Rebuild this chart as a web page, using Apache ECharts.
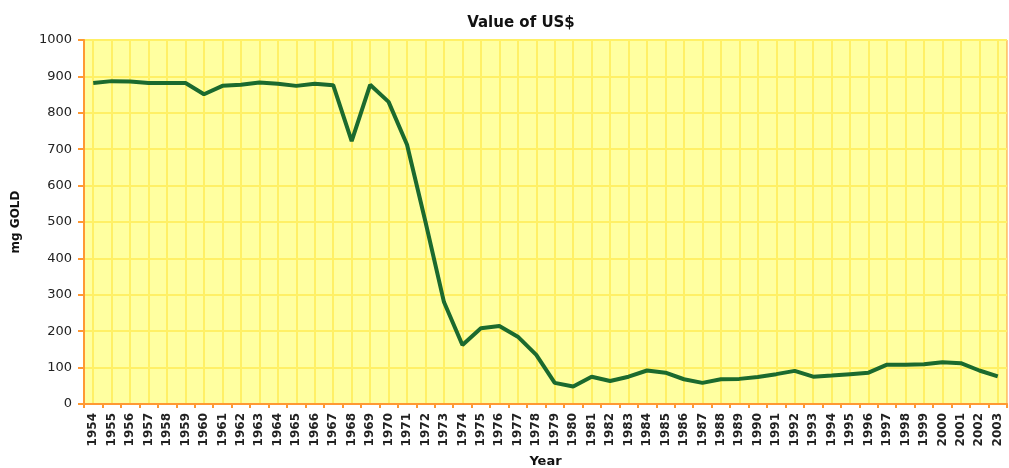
<!DOCTYPE html>
<html>
<head>
<meta charset="utf-8">
<script src="https://cdn.jsdelivr.net/npm/echarts@6/dist/echarts.min.js"></script>
<style>
html,body{margin:0;padding:0;background:#fff;}
#chart{width:1009px;height:468px;}
</style>
</head>
<body>
<div id="chart"></div>
<script>
const years = ['1954','1955','1956','1957','1958','1959','1960','1961','1962','1963','1964','1965','1966','1967','1968','1969','1970','1971','1972','1973','1974','1975','1976','1977','1978','1979','1980','1981','1982','1983','1984','1985','1986','1987','1988','1989','1990','1991','1992','1993','1994','1995','1996','1997','1998','1999','2000','2001','2002','2003'];
const mgGold = [882,887,886,882,882,882,851,874,877,883,880,874,880,876,722,877,830,712,500,280,162,208,214,185,135,58,48,75,63,75,92,86,68,58,68,69,74,82,91,75,78,82,86,108,108,109,115,112,92,76];
const yTicks = [0,100,200,300,400,500,600,700,800,900,1000];

const orange = '#FF9933';
const chart = echarts.init(document.getElementById('chart'));
chart.setOption({
  animation: false,
  backgroundColor: '#ffffff',
  title: {
    text: 'Value of US$',
    left: 516, top: 11,
    textAlign: 'center',
    textStyle: {fontFamily: 'DejaVu Sans', fontWeight: 'bold', fontSize: 15, color: '#111'}
  },
  grid: {
    left: 84, right: 2, top: 40, bottom: 64,
    containLabel: false,
    outerBoundsMode: 'none',
    show: true, backgroundColor: '#FFFFA0', borderColor: orange, borderWidth: 1
  },
  xAxis: {
    type: 'category',
    data: years,
    boundaryGap: true,
    name: 'Year',
    nameLocation: 'middle',
    nameGap: 51,
    nameTextStyle: {fontFamily: 'DejaVu Sans', fontWeight: 'bold', fontSize: 13, color: '#111'},
    axisLine: {lineStyle: {color: orange, width: 2}},
    axisTick: {show: true, length: 4, lineStyle: {color: orange, width: 2}},
    axisLabel: {rotate: 90, interval: 0, margin: 9, fontFamily: 'DejaVu Sans', fontWeight: 'bold', fontSize: 12, color: '#222'},
    splitLine: {show: true, alignWithLabel: true, lineStyle: {color: '#FFF066', width: 2}}
  },
  yAxis: {
    type: 'value',
    min: yTicks[0], max: yTicks[yTicks.length-1], interval: 100,
    name: 'mg GOLD',
    nameLocation: 'middle',
    nameGap: 62,
    nameRotate: 90,
    nameTextStyle: {fontFamily: 'DejaVu Sans', fontWeight: 'bold', fontSize: 12, color: '#111'},
    axisLine: {show: true, lineStyle: {color: orange, width: 2}},
    axisTick: {show: true, length: 6, lineStyle: {color: orange, width: 2}},
    axisLabel: {margin: 12, fontFamily: 'DejaVu Sans', fontSize: 13, color: '#222', formatter: function (v) { return String(v); }},
    splitLine: {show: true, lineStyle: {color: '#FFF066', width: 2}}
  },
  series: [{
    type: 'line',
    data: mgGold,
    showSymbol: false,
    symbol: 'none',
    lineStyle: {color: '#1B6A2E', width: 4},
    itemStyle: {color: '#1B6A2E'}
  }]
});
</script>
</body>
</html>
